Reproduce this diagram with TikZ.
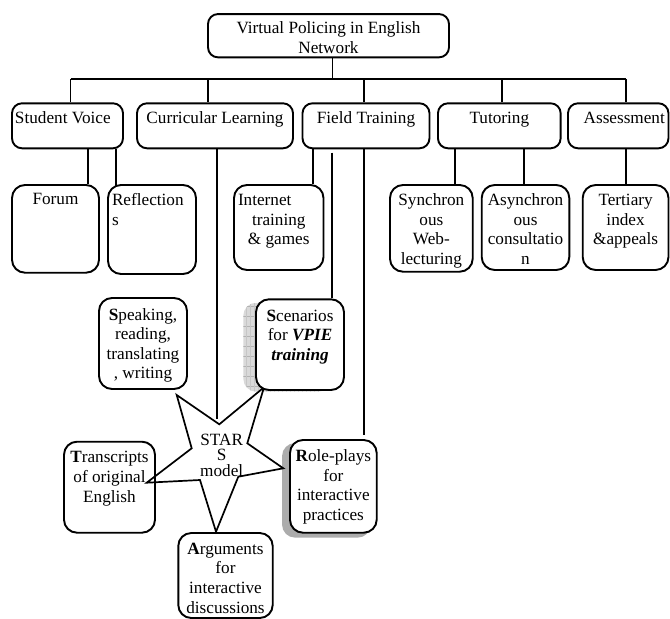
\documentclass[tikz,border=0pt]{standalone}
\usepackage{fontspec}
\setmainfont{Liberation Serif}
\pgfdeclarelayer{background}
\pgfsetlayers{background,main}
\newcommand{\bx}[4]{\parbox[c][#2][t]{#1}{\vspace*{#3}\centering\strut #4}}
\begin{document}
\begin{tikzpicture}[x=1pt,y=-1pt, line width=1.9pt,
  every node/.style={font=\fontsize{17.2}{19.6}\selectfont, inner sep=0pt},
  box/.style={draw, rounded corners=10pt},
  rbox/.style={draw, rounded corners=13pt},
  wbox/.style={draw, fill=white, rounded corners=13pt},
  conn/.style={line width=1.9pt},
  startext/.style={align=center, font=\fontsize{17.2}{15.6}\selectfont}]
\useasboundingbox (0,0) rectangle (670,619);

% star
\filldraw[fill=white, line width=1.7pt] (176.7,395) -- (219.3,424.3) -- (264,387.3) -- (247.3,443.3) -- (283.3,468.3) -- (238.3,476.7) -- (216,531.7) -- (200,480) -- (146.7,482.7) -- (191.7,448.3) -- cycle;
\node[startext] (star) at (221.7,455) {STAR\\S\\model};

% top level
\node[box] (T) at (328.5,35.7) {\bx{241pt}{43.3pt}{5.8pt}{Virtual Policing in English\\Network}};

% second level
\node[box] (sv) at (67.5,125.8) {\bx{111pt}{45pt}{6.5pt}{\raggedright\hspace*{3pt}Student Voice}};
\node[box] (cl) at (215,125.8) {\bx{156pt}{45pt}{6.5pt}{Curricular Learning}};
\node[box] (ft) at (366,125.8) {\bx{127pt}{45pt}{6.5pt}{Field Training}};
\node[box] (tu) at (499.3,125.8) {\bx{122.7pt}{45pt}{6.5pt}{Tutoring}};
\node[box] (as) at (618.25,125.8) {\bx{100.5pt}{45pt}{6.5pt}{\hspace*{12pt}Assessment}};

% third level
\node[rbox] (forum) at (55.5,228.85) {\bx{87pt}{87.7pt}{5.8pt}{Forum}};
\node[rbox] (refl) at (152,229.5) {\bx{88pt}{89pt}{6.8pt}{\raggedright\hspace*{4pt}Reflection\\\hspace*{4pt}s}};
\node[rbox] (inet) at (278.75,227.5) {\bx{89.5pt}{85pt}{6.8pt}{\raggedright\hspace*{4pt}Internet\par\centering training\\\& games}};
\node[rbox] (sync) at (431.35,228.35) {\bx{82.7pt}{86.7pt}{6.8pt}{Synchron\\ous\\Web-\\lecturing}};
\node[rbox] (async) at (525.5,227.5) {\bx{87.6pt}{85pt}{6.8pt}{Asynchron\\ous\\consultatio\\n}};
\node[rbox] (tert) at (625.6,227.5) {\bx{85.8pt}{85pt}{6.8pt}{Tertiary\\index\\\&appeals}};

% STARS boxes
\node[rbox] (speak) at (143,343.5) {\bx{88pt}{91pt}{8.3pt}{\textbf{S}peaking,\\reading,\\translating\\, writing}};
\node[wbox] (scen) at (300,344.65) {\bx{88pt}{90.7pt}{8pt}{\textbf{S}cenarios\\for \textbf{\textit{VPIE}}\\\textbf{\textit{training}}}};
\node[wbox] (role) at (333.35,486.35) {\bx{86.7pt}{92.7pt}{7.9pt}{\textbf{R}ole-plays\\for\\interactive\\practices}};
\node[rbox] (trans) at (109.5,487.2) {\bx{91pt}{91pt}{7.5pt}{\textbf{T}ranscripts\\of original\\English}};
\node[rbox] (arg) at (225.5,575.5) {\bx{94.4pt}{85pt}{7.5pt}{\textbf{A}rguments\\for\\interactive\\discussions}};

% shadows
\begin{pgfonlayer}{background}
\fill[gray!65, rounded corners=13pt] ([xshift=-7pt,yshift=-4pt]role.north west) rectangle ([xshift=-7pt,yshift=-4pt]role.south east);
\begin{scope}
\clip[rounded corners=13pt] (243.3,302.7) rectangle (331,391.7);
\fill[gray!30] (243.3,302.7) rectangle (331,391.7);
\foreach \yy in {306,316,...,396} \draw[gray!60, line width=0.4pt] (240,\yy) -- (335,\yy);
\foreach \xx in {246,250,...,334} \draw[gray!45, line width=0.3pt] (\xx,300) -- (\xx,395);
\end{scope}
\end{pgfonlayer}

% connectors
\coordinate (d0) at (332.5,79);
\coordinate (d1) at (70.5,79);
\coordinate (d2) at (208,79);
\coordinate (d3) at (364,79);
\coordinate (d4) at (501.7,79);
\coordinate (d5) at (625.7,79);
\draw[conn] (T.south -| d0) -- (d0);
\draw[conn] (d1) -- (d5);
\draw[conn] (d1) -- (d1 |- sv.north);
\draw[conn] (d2) -- (d2 |- cl.north);
\draw[conn] (d3) -- (d3 |- ft.north);
\draw[conn] (d4) -- (d4 |- tu.north);
\draw[conn] (d5) -- (d5 |- as.north);

\coordinate (e1) at (87.6,0);
\coordinate (e2) at (116,0);
\coordinate (e4) at (313,0);
\coordinate (e7) at (455,0);
\coordinate (e8) at (524.3,0);
\coordinate (e9) at (625.7,0);
\draw[conn] (e1 |- sv.south) -- (e1 |- forum.north);
\draw[conn, shorten >=-2.5pt] (e2 |- sv.south) -- (e2 |- refl.north);
\draw[conn] (e4 |- ft.south) -- (e4 |- inet.north);
\draw[conn] (e7 |- tu.south) -- (e7 |- sync.north);
\draw[conn] (e8 |- tu.south) -- (e8 |- async.north);
\draw[conn] (e9 |- as.south) -- (e9 |- tert.north);

\coordinate (e3) at (217,0);
\coordinate (startop) at (217,419);
\draw[conn] (e3 |- cl.south) -- (startop);
\coordinate (ft2s) at (332.3,152.7);
\draw[conn] (ft2s) -- (ft2s |- scen.north);
\coordinate (ft3e) at (364.3,435);
\draw[conn] (ft3e |- ft.south) -- (ft3e);
\end{tikzpicture}
\end{document}
